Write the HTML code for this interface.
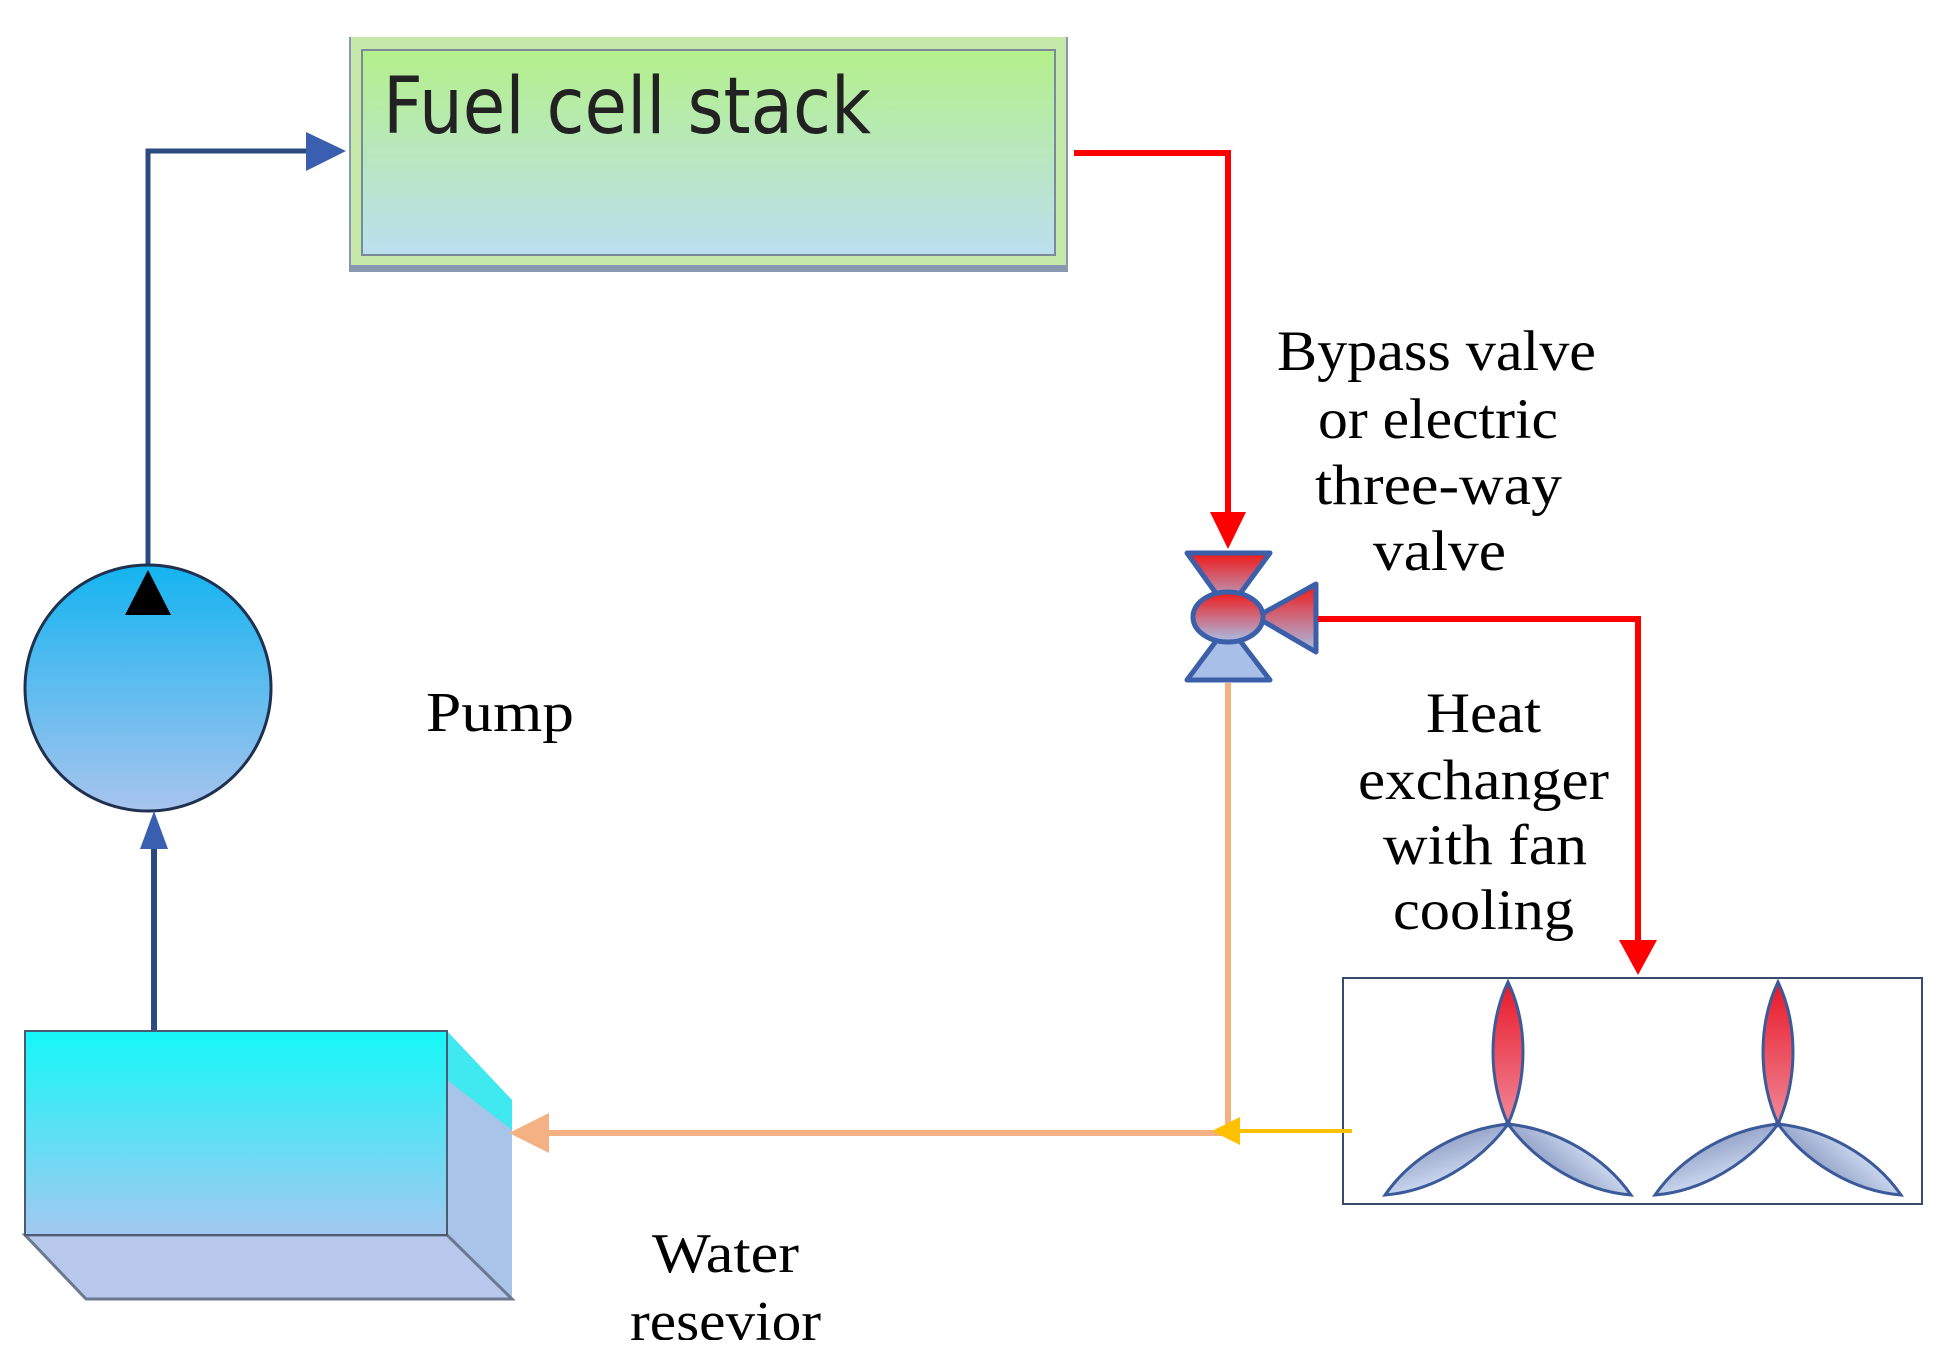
<!DOCTYPE html>
<html><head><meta charset="utf-8"><style>html,body{margin:0;padding:0;background:#fff}svg{display:block}</style></head>
<body>
<svg width="1936" height="1364" viewBox="0 0 1936 1364" xmlns="http://www.w3.org/2000/svg">
<defs>
<linearGradient id="gStack" x1="0" y1="0" x2="0" y2="1"><stop offset="0" stop-color="#b4f08a"/><stop offset="1" stop-color="#bcdff0"/></linearGradient>
<linearGradient id="gPump" x1="0" y1="0" x2="0" y2="1"><stop offset="0" stop-color="#14b4f0"/><stop offset="1" stop-color="#a8c4ee"/></linearGradient>
<linearGradient id="gRes" x1="0" y1="0" x2="0" y2="1"><stop offset="0" stop-color="#14f8f8"/><stop offset="1" stop-color="#a4c8f0"/></linearGradient>
<linearGradient id="gValve" x1="0" y1="0" x2="0" y2="1"><stop offset="0" stop-color="#f01818"/><stop offset="1" stop-color="#a8c0e8"/></linearGradient>
<linearGradient id="gBladeR" x1="0" y1="0" x2="0" y2="1"><stop offset="0" stop-color="#e81828"/><stop offset="1" stop-color="#f08898"/></linearGradient>
<linearGradient id="gBladeB" x1="0" y1="0" x2="1" y2="1"><stop offset="0" stop-color="#d8e4f8"/><stop offset="1" stop-color="#8898c0"/></linearGradient>
<g id="fan">
  <path d="M0,0 C-20,-45 -20,-100 0,-142 C20,-100 20,-45 0,0 Z" fill="url(#gBladeR)" stroke="#3b5a9a" stroke-width="3"/>
  <g transform="rotate(120)"><path d="M0,0 C-20,-45 -20,-100 0,-142 C20,-100 20,-45 0,0 Z" fill="url(#gBladeB)" stroke="#3b5a9a" stroke-width="3"/></g>
  <g transform="rotate(240)"><path d="M0,0 C-20,-45 -20,-100 0,-142 C20,-100 20,-45 0,0 Z" fill="url(#gBladeB)" stroke="#3b5a9a" stroke-width="3"/></g>
</g>
</defs>

<rect x="349" y="37" width="719" height="235" fill="#8898b0"/>
<rect x="351" y="37" width="715" height="228" fill="#c6e8a8"/>
<rect x="362" y="50" width="693" height="205" fill="url(#gStack)" stroke="#7a8a9a" stroke-width="2"/>
<text x="383" y="133" font-family="DejaVu Sans, Liberation Sans, sans-serif" font-size="78" fill="#222" textLength="488" lengthAdjust="spacingAndGlyphs">Fuel cell stack</text>

<polyline points="148,570 148,151 310,151" fill="none" stroke="#2d4a80" stroke-width="5"/>
<polygon points="306,132 346,151 306,171" fill="#3b5fb0"/>

<circle cx="148" cy="688" r="123" fill="url(#gPump)" stroke="#1f3050" stroke-width="3"/>
<polygon points="148,570 125,615 171,615" fill="#000"/>

<line x1="154" y1="1031" x2="154" y2="840" stroke="#2d4a80" stroke-width="6"/>
<polygon points="154,811 140,849 168,849" fill="#3b5fb0"/>

<polygon points="447,1031 512,1100 512,1299 447,1235" fill="#a8c4e8"/>
<polygon points="447,1031 512,1100 512,1130 447,1080" fill="#40e8f0"/>
<polygon points="25,1235 447,1235 512,1299 86,1299" fill="#b8c8ec" stroke="#6a7890" stroke-width="3"/>
<rect x="25" y="1031" width="422" height="204" fill="url(#gRes)" stroke="#4a5a70" stroke-width="2"/>

<g font-family="Liberation Serif, serif" font-size="56" fill="#000" lengthAdjust="spacingAndGlyphs">
<text x="426" y="731" textLength="148" lengthAdjust="spacingAndGlyphs">Pump</text>
</g>
<svg x="0" y="0" width="1936" height="1340" overflow="hidden">
<text x="652" y="1272" font-family="Liberation Serif, serif" font-size="56" textLength="147" lengthAdjust="spacingAndGlyphs">Water</text>
<text x="630" y="1340" font-family="Liberation Serif, serif" font-size="56" textLength="191" lengthAdjust="spacingAndGlyphs">resevior</text>
</svg>

<polyline points="1074,153 1228,153 1228,515" fill="none" stroke="#ff0000" stroke-width="6"/>
<polygon points="1210,512 1246,512 1228,549" fill="#ff0000"/>

<polygon points="1187,553 1270,553 1228,610" fill="url(#gValve)" stroke="#3b5fa8" stroke-width="5" stroke-linejoin="round"/>
<polygon points="1187,680 1270,680 1228,625" fill="#a8c0e8" stroke="#3b5fa8" stroke-width="5" stroke-linejoin="round"/>
<polygon points="1256,617 1316,584 1316,652" fill="url(#gValve)" stroke="#3b5fa8" stroke-width="5" stroke-linejoin="round"/>
<ellipse cx="1228" cy="617" rx="35" ry="25" fill="url(#gValve)" stroke="#3b5fa8" stroke-width="5"/>

<polyline points="1318,619 1638,619 1638,945" fill="none" stroke="#ff0000" stroke-width="6"/>
<polygon points="1619,940 1657,940 1638,975" fill="#ff0000"/>

<rect x="1343" y="978" width="579" height="226" fill="#fff" stroke="#3a4a6a" stroke-width="2"/>
<use href="#fan" x="1508" y="1124"/>
<use href="#fan" x="1778" y="1124"/>

<line x1="1228" y1="683" x2="1228" y2="1133" stroke="#f4b183" stroke-width="6"/>
<line x1="1228" y1="1133" x2="540" y2="1133" stroke="#f4b183" stroke-width="6"/>
<polygon points="509,1133 549,1113 549,1153" fill="#f4b183"/>
<line x1="1352" y1="1131" x2="1235" y2="1131" stroke="#ffc000" stroke-width="4"/>
<polygon points="1212,1131 1240,1117 1240,1145" fill="#ffc000"/>

<g font-family="Liberation Serif, serif" font-size="57" fill="#000">
<text x="1277" y="370" textLength="319" lengthAdjust="spacingAndGlyphs">Bypass valve</text>
<text x="1318" y="438" textLength="240" lengthAdjust="spacingAndGlyphs">or electric</text>
<text x="1315" y="504" textLength="247" lengthAdjust="spacingAndGlyphs">three-way</text>
<text x="1373" y="570" textLength="133" lengthAdjust="spacingAndGlyphs">valve</text>
<text x="1426" y="732" textLength="115" lengthAdjust="spacingAndGlyphs">Heat</text>
<text x="1358" y="799" textLength="251" lengthAdjust="spacingAndGlyphs">exchanger</text>
<text x="1383" y="864" textLength="204" lengthAdjust="spacingAndGlyphs">with fan</text>
<text x="1393" y="929" textLength="181" lengthAdjust="spacingAndGlyphs">cooling</text>
</g>
</svg>
</body></html>
